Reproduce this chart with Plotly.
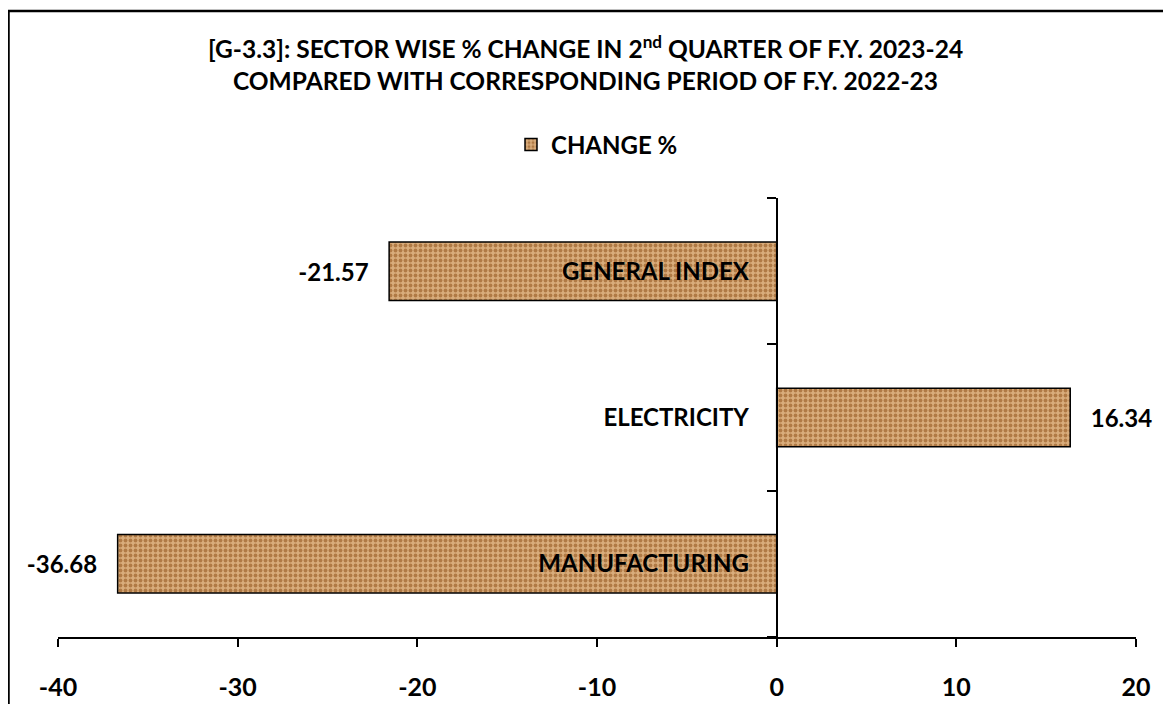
import plotly.graph_objects as go

# 数据
sectors = ['MANUFACTURING', 'ELECTRICITY', 'GENERAL INDEX']
change_pct = [-36.68, 16.34, -21.57]
x_ticks = [-40, -30, -20, -10, 0, 10, 20]
title_lines = ['[G-3.3]: SECTOR WISE % CHANGE IN 2<sup>nd</sup> QUARTER OF F.Y. 2023-24',
               'COMPARED WITH CORRESPONDING PERIOD OF F.Y. 2022-23']

FONT = 'Lato'
W, H = 1163, 696          # 页面 body 有 8px 边距
L, R, T, B = 50, 35, 190, 67
plot_w = W - L - R
plot_h = H - T - B

# 数值标签与柱子之间留空
pad = '\u00a0\u00a0\u00a0'
labels = [(f'{v:.2f}' + pad) if v < 0 else (pad + f'{v:.2f}') for v in change_pct]

fig = go.Figure()
fig.add_trace(go.Bar(
    y=sectors, x=change_pct, orientation='h', name='CHANGE %',
    marker=dict(
        color='#d3a26f',
        line=dict(color='black', width=1.5),
        pattern=dict(shape='.', fgcolor='#b07a45', bgcolor='#d9ad7c',
                     size=5, solidity=0.45, fillmode='replace'),
    ),
    text=labels, textposition='outside',
    textfont=dict(family=FONT, size=24, color='black', weight='bold'),
    cliponaxis=False,
))

# 标题两行
for line, fy in zip(title_lines, [39, 72]):
    fig.add_annotation(text=line, xref='paper', yref='paper', x=(577 - L) / plot_w,
                       y=(H - B - fy) / plot_h, xanchor='center', yanchor='middle',
                       showarrow=False,
                       font=dict(family=FONT, size=24.5, color='black', weight='bold'))

fig.update_layout(
    width=W, height=H,
    paper_bgcolor='white', plot_bgcolor='white',
    margin=dict(l=L, r=R, t=T, b=B, autoexpand=False),
    bargap=0.6,
    showlegend=True,
    legend=dict(orientation='h', x=(589 - L) / plot_w, xanchor='center',
                y=(H - B - 137) / plot_h, yanchor='middle',
                font=dict(family=FONT, size=24, color='black', weight='bold'),
                itemwidth=30),
    xaxis=dict(range=[-40, 20], tickvals=x_ticks, ticktext=[str(v) for v in x_ticks],
               showgrid=False, zeroline=False, automargin=False,
               showline=True, linecolor='black', linewidth=2,
               ticks='outside', ticklen=8, tickwidth=2, tickcolor='black',
               ticklabelstandoff=19,
               tickfont=dict(family=FONT, size=25, color='black', weight='bold')),
    yaxis=dict(type='category', categoryorder='array', categoryarray=sectors,
               range=[-0.5, 2.5], anchor='free', position=40 / 60, automargin=False,
               showgrid=False, zeroline=False, showline=True, linecolor='black', linewidth=2,
               ticks='outside', ticklen=9, tickwidth=2, tickcolor='black',
               tickson='boundaries', ticklabelstandoff=22,
               tickfont=dict(family=FONT, size=24, color='black', weight='bold')),
)

# 外框
fig.add_shape(type='rect', xref='paper', yref='paper',
              x0=(0.5 - L) / plot_w, x1=1.2, y0=-0.5, y1=(H - B - 3) / plot_h,
              line=dict(color='black', width=2.5), fillcolor='rgba(0,0,0,0)')

fig.write_html('out.html')
